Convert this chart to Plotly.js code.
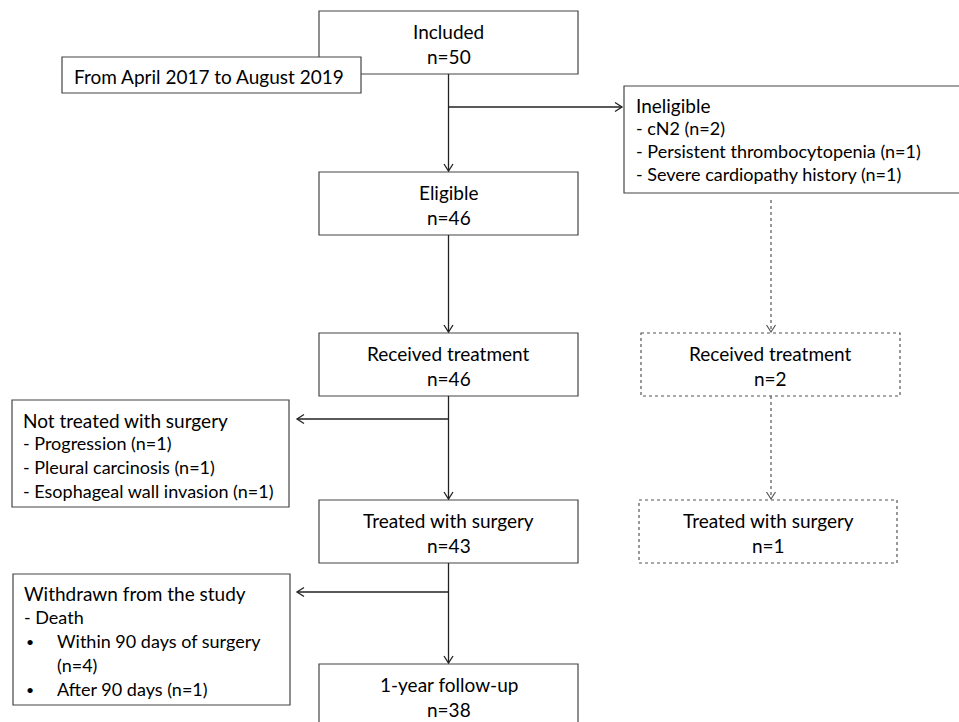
<!DOCTYPE html>
<html>
<head>
<meta charset="utf-8">
<script src="https://cdn.plot.ly/plotly-3.0.1.min.js"></script>
<style>html,body{margin:0;padding:0;background:#fff;}#chart{width:959px;height:722px;}</style>
</head>
<body>
<div id="chart"></div>
<script>
// ---- Data ----
const mainStages = ["Included", "Eligible", "Received treatment", "Treated with surgery", "1-year follow-up"];
const mainCounts = [50, 46, 46, 43, 38];
const sideStages = ["Received treatment", "Treated with surgery"];
const sideCounts = [2, 1];
const periodLabel = "From April 2017 to August 2019";
const ineligibleTitle = "Ineligible";
const ineligibleReasons = ["cN2", "Persistent thrombocytopenia", "Severe cardiopathy history"];
const ineligibleCounts = [2, 1, 1];
const notSurgeryTitle = "Not treated with surgery";
const notSurgeryReasons = ["Progression", "Pleural carcinosis", "Esophageal wall invasion"];
const notSurgeryCounts = [1, 1, 1];
const withdrawnTitle = "Withdrawn from the study";
const withdrawnCause = "Death";
const withdrawnItems = ["Within 90 days of surgery", "After 90 days"];
const withdrawnCounts = [4, 1];

// ---- Layout (positions in pixel space) ----
const FONT = {family: "Lato, 'Open Sans', sans-serif", size: 19, color: "#000"};
const FONT_ITEM = {family: "Lato, 'Open Sans', sans-serif", size: 18, color: "#000"};
const FONT_BULLET = {family: "Lato, 'Open Sans', sans-serif", size: 14, color: "#000"};
const LINE = {color: "#222", width: 1.3};
const BOX = {color: "#444", width: 1.2};
const DOT = {color: "#555", width: 1.2, dash: "dot"};
const mainX0 = 319, mainX1 = 578, mainCx = 448.5;
const mainTops = [11, 172, 333, 500, 664];
const boxH = 63;
const sideX = [[641, 900], [639, 897]];
const sideTops = [333, 500];
const sideCx = 771;

const shapes = [];
const annotations = [];

function rect(x0, y0, x1, y1, line) {
  shapes.push({type: "rect", xref: "x", yref: "y", x0, y0, x1, y1, line, fillcolor: "#fff", layer: "above"});
}
function seg(x0, y0, x1, y1, line) {
  shapes.push({type: "line", xref: "x", yref: "y", x0, y0, x1, y1, line, layer: "above"});
}
function head(x, y, dir, line) {
  const w = 4.5, h = 7;
  let p;
  if (dir === "down") p = `M ${x - w} ${y - h} L ${x} ${y} L ${x + w} ${y - h}`;
  else if (dir === "right") p = `M ${x - h} ${y - w} L ${x} ${y} L ${x - h} ${y + w}`;
  else p = `M ${x + h} ${y - w} L ${x} ${y} L ${x + h} ${y + w}`;
  shapes.push({type: "path", xref: "x", yref: "y", path: p, line: {color: line.color, width: line.width}, layer: "above"});
}
function text(t, x, y, anchor, font) {
  annotations.push({text: t, x, y, xref: "x", yref: "y", showarrow: false,
    xanchor: anchor || "center", yanchor: "middle", font: font || FONT, align: anchor || "center"});
}

// main column boxes (Included box first, then period box overlapping it)
mainStages.forEach((s, i) => {
  rect(mainX0, mainTops[i], mainX1, mainTops[i] + boxH, BOX);
  text(s, mainCx, mainTops[i] + 20);
  text("n=" + mainCounts[i], mainCx, mainTops[i] + 45);
});
rect(62, 57, 361, 93, BOX);
text(periodLabel, 72, 76, "left");

// main vertical arrows
for (let i = 0; i < mainStages.length - 1; i++) {
  const y0 = mainTops[i] + boxH, y1 = mainTops[i + 1] - 1;
  seg(mainCx, y0, mainCx, y1, LINE);
  head(mainCx, y1, "down", LINE);
}

// Ineligible branch
seg(mainCx, 107, 622, 107, LINE);
head(622, 107, "right", LINE);
rect(624, 86, 975, 193, BOX);
text(ineligibleTitle, 634, 105, "left");
ineligibleReasons.forEach((r, i) => text("- " + r + " (n=" + ineligibleCounts[i] + ")", 634, 128 + i * 23, "left", FONT_ITEM));

// side (dotted) column
seg(sideCx, 200, sideCx, sideTops[0] - 1, DOT);
head(sideCx, sideTops[0] - 1, "down", {color: "#555", width: 1.2});
sideStages.forEach((s, i) => {
  rect(sideX[i][0], sideTops[i], sideX[i][1], sideTops[i] + boxH, DOT);
  const cx = (sideX[i][0] + sideX[i][1]) / 2;
  text(s, cx, sideTops[i] + 20);
  text("n=" + sideCounts[i], cx, sideTops[i] + 45);
});
seg(sideCx, sideTops[0] + boxH, sideCx, sideTops[1] - 1, DOT);
head(sideCx, sideTops[1] - 1, "down", {color: "#555", width: 1.2});

// Not treated with surgery branch
seg(mainCx, 419, 297, 419, LINE);
head(297, 419, "left", LINE);
rect(12, 400, 289, 507, BOX);
text(notSurgeryTitle, 21, 420, "left");
notSurgeryReasons.forEach((r, i) => text("- " + r + " (n=" + notSurgeryCounts[i] + ")", 21, 443 + i * 24, "left", FONT_ITEM));

// Withdrawn branch
seg(mainCx, 592, 297, 592, LINE);
head(297, 592, "left", LINE);
rect(13, 574, 290, 705, BOX);
text(withdrawnTitle, 22, 593, "left");
text("- " + withdrawnCause, 22, 617, "left", FONT_ITEM);
text("•", 24, 641, "left", FONT_BULLET);
text(withdrawnItems[0], 55, 641, "left", FONT_ITEM);
text("(n=" + withdrawnCounts[0] + ")", 55, 665, "left", FONT_ITEM);
text("•", 24, 689, "left", FONT_BULLET);
text(withdrawnItems[1] + " (n=" + withdrawnCounts[1] + ")", 55, 689, "left", FONT_ITEM);

const layout = {
  width: 959, height: 722,
  margin: {l: 0, r: 0, t: 0, b: 0},
  paper_bgcolor: "#fff", plot_bgcolor: "#fff",
  xaxis: {range: [0, 959], visible: false, fixedrange: true},
  yaxis: {range: [722, 0], visible: false, fixedrange: true},
  showlegend: false,
  shapes, annotations
};
Plotly.newPlot("chart", [{x: [], y: [], type: "scatter"}], layout, {staticPlot: true, displayModeBar: false});
</script>
</body>
</html>
